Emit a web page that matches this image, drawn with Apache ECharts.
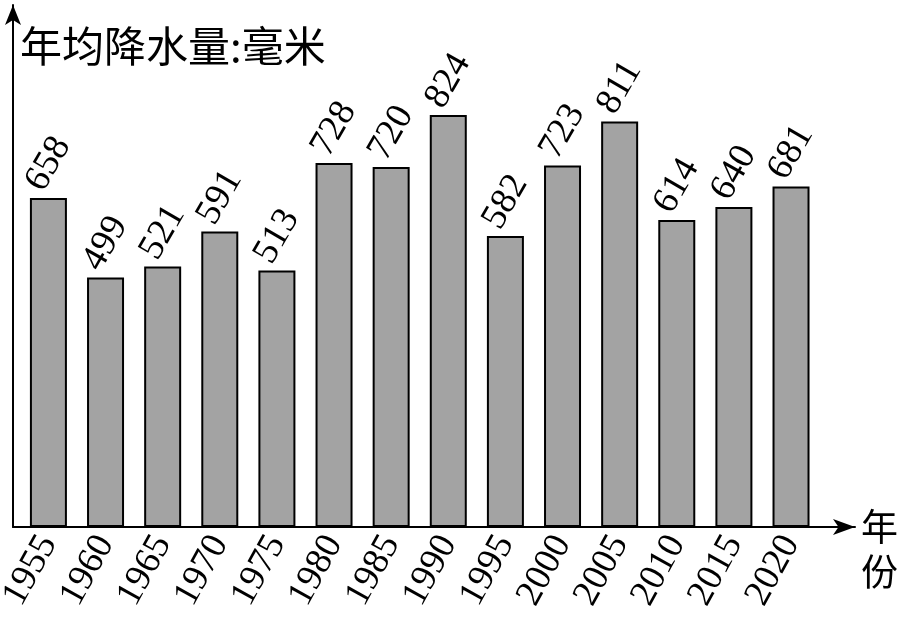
<!DOCTYPE html>
<html><head><meta charset="utf-8">
<script src="https://cdn.jsdelivr.net/npm/echarts@6/dist/echarts.min.js"></script>
<style>html,body{margin:0;padding:0;background:#fff}#c{width:903px;height:621px}</style>
</head><body><div id="c"></div>
<script>
const years = ['1955','1960','1965','1970','1975','1980','1985','1990','1995','2000','2005','2010','2015','2020'];
const rainfall = [658,499,521,591,513,728,720,824,582,723,811,614,640,681];
const yTitle = '年均降水量:毫米';
const xTitle = '年\n份';

const serif = '"Liberation Serif","Times New Roman",serif';
const cjk = '"Noto Sans CJK SC",sans-serif';
const chart = echarts.init(document.getElementById('c'), null, {renderer:'canvas'});
const option = {
  animation:false,
  backgroundColor:'#fff',
  title:[
    {text:yTitle,left:20,top:25,padding:0,textStyle:{fontFamily:cjk,fontSize:42,fontWeight:'normal',color:'#000'}},
    {text:xTitle,left:861,top:504,padding:0,textStyle:{fontFamily:cjk,fontSize:37,lineHeight:45,fontWeight:'normal',color:'#000'}}
  ],
  grid:{left:13,right:48,top:5,bottom:94,containLabel:false,outerBoundsMode:'none'},
  xAxis:{type:'value',min:-0.62,max:14.12,splitLine:{show:false},axisTick:{show:false},
    axisLine:{show:true,onZero:false,symbol:['none','arrow'],symbolSize:[12,22],lineStyle:{color:'#000',width:2}},
    axisLabel:{customValues:years.map((y,i)=>i),formatter:v=>years[v],rotate:61,margin:11,fontFamily:serif,fontSize:37,color:'#000'}},
  yAxis:{type:'value',min:0,max:1044,splitLine:{show:false},axisTick:{show:false},axisLabel:{show:false},
    axisLine:{show:true,onZero:false,symbol:['none','arrow'],symbolSize:[12,20],lineStyle:{color:'#000',width:2}}},
  series:[{type:'bar',data:rainfall.map((v,i)=>[i,v]),barWidth:37,
    itemStyle:{color:'#a3a3a3',borderColor:'#000',borderWidth:2},
    label:{show:true,position:['50%',-34],rotate:60,align:'center',verticalAlign:'middle',fontFamily:serif,fontSize:37,color:'#000',formatter:p=>p.value[1]}}]
};
chart.setOption(option);
</script></body></html>
